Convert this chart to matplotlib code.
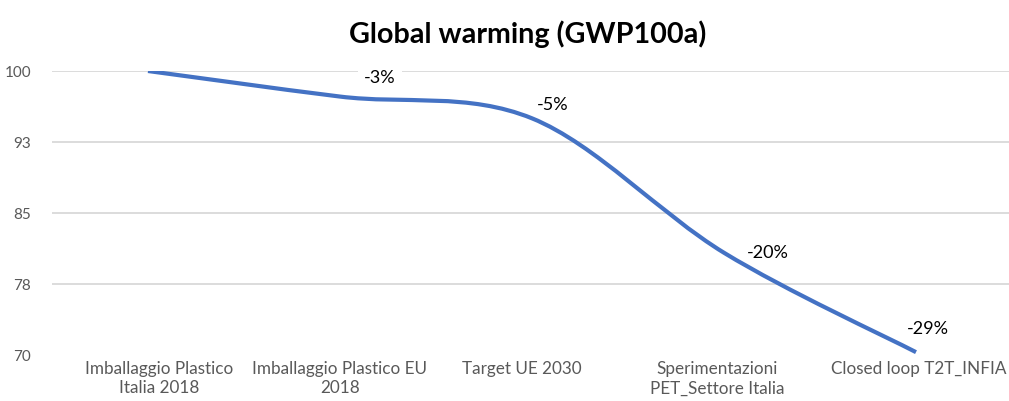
import numpy as np
import matplotlib
matplotlib.use("Agg")
import matplotlib.pyplot as plt
import matplotlib.transforms as mtransforms
from matplotlib.path import Path
from matplotlib.patches import PathPatch

# chart data
categories = ["Imballaggio Plastico\nItalia 2018", "Imballaggio Plastico EU\n2018",
              "Target UE 2030", "Sperimentazioni\nPET_Settore Italia", "Closed loop T2T_INFIA"]
values = [100, 97.3, 95.0, 80.8, 70.3]
point_labels = ["", "-3%", "-5%", "-20%", "-29%"]
y_ticks = [70, 77.5, 85, 92.5, 100]
y_tick_labels = ["70", "78", "85", "93", "100"]

plt.rcParams['font.family'] = ['Lato', 'DejaVu Sans']

fig = plt.figure(figsize=(10.09, 4.01), dpi=100)
# plot area runs slightly past the right edge of the image, as in the original
ax = fig.add_axes([52/1009, 1-355/401, (1012-52)/1009, (355-71)/401])

x = np.arange(len(values))
y = np.array(values, dtype=float)

# smoothed line like excel: cubic bezier segments through the points
verts = [(x[0], y[0])]
codes = [Path.MOVETO]
n = len(x)
for i in range(n - 1):
    p0 = np.array([x[max(i-1, 0)], y[max(i-1, 0)]])
    p1 = np.array([x[i], y[i]])
    p2 = np.array([x[i+1], y[i+1]])
    p3 = np.array([x[min(i+2, n-1)], y[min(i+2, n-1)]])
    c1 = p1 + (p2 - p0) / 6
    c2 = p2 - (p3 - p1) / 6
    verts += [tuple(c1), tuple(c2), tuple(p2)]
    codes += [Path.CURVE4] * 3
patch = PathPatch(Path(verts, codes), facecolor='none', edgecolor='#4472C4',
                  lw=3, capstyle='butt', zorder=3)
ax.add_patch(patch)

# data labels (boxes hide the gridlines, line stays on top)
offsets = [(0, 0), (40, 19), (21, 13), (44, 0), (12, 23)]
for i, lab in enumerate(point_labels):
    if not lab:
        continue
    ax.annotate(lab, (x[i], y[i]), xytext=offsets[i], textcoords='offset pixels',
                ha='center', va='center', fontsize=13, color='#000000', zorder=2,
                bbox=dict(boxstyle='square,pad=0.35', fc='white', ec='none'))

ax.set_xlim(-0.5, len(values) - 0.5)
ax.set_ylim(70, 100)
ax.set_xticks(x)
ax.set_xticklabels(categories, fontsize=12.3, color='#595959', linespacing=1.3)
ax.set_yticks(y_ticks)
ax.set_yticklabels(y_tick_labels, fontsize=11, color='#595959')
ax.tick_params(axis='both', length=0)
ax.tick_params(axis='y', pad=15)
ax.tick_params(axis='x', pad=4)
ax.grid(axis='y', color='#d9d9d9', lw=1.3)
ax.get_ygridlines()[0].set_visible(False)
ax.set_axisbelow(True)
for s in ax.spines.values():
    s.set_visible(False)

# excel nudges some category labels sideways
label_shift = [11, 0, -10, -7, 3]
for t, dx in zip(ax.get_xticklabels(), label_shift):
    t.set_transform(t.get_transform() + mtransforms.Affine2D().translate(dx, 0))

fig.text(528/1009, 1-43/401, "Global warming (GWP100a)", ha='center', va='baseline',
         fontsize=20.7, fontweight='bold', color='#000000')

fig.savefig("out.png", dpi=100)
